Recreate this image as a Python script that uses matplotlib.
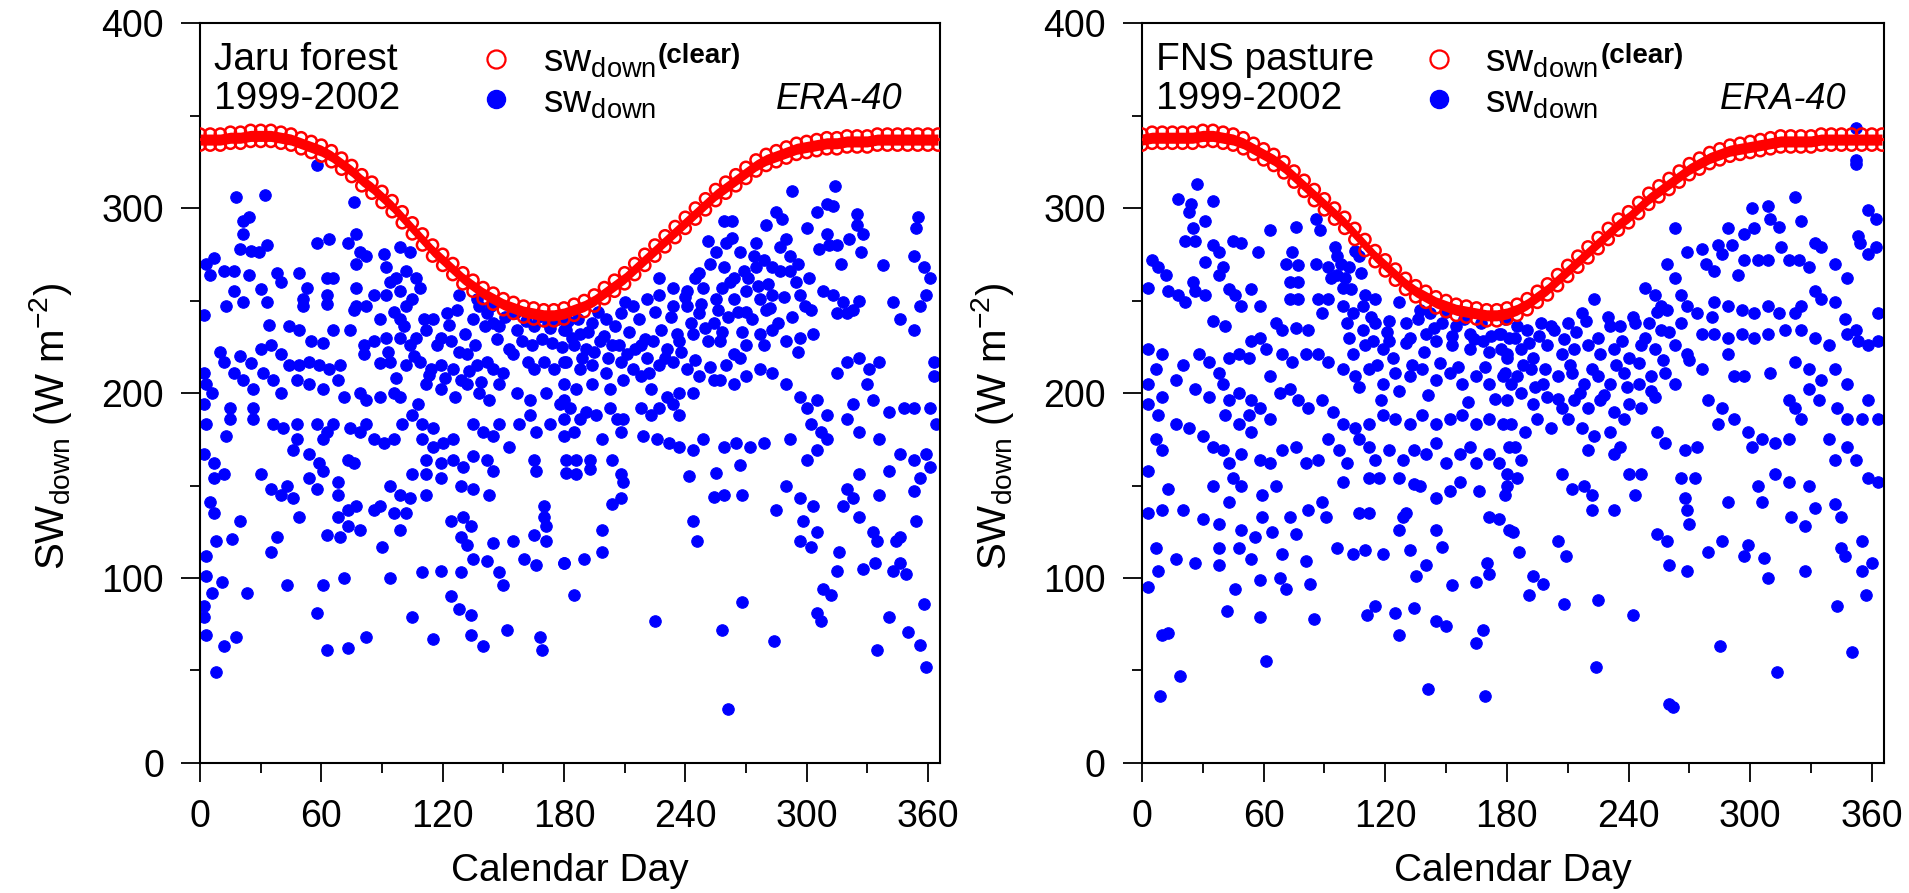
import matplotlib
matplotlib.use('Agg')
import matplotlib.pyplot as plt
from matplotlib.lines import Line2D
from matplotlib.ticker import MultipleLocator

plt.rcParams['font.family'] = ['Liberation Sans', 'DejaVu Sans']
plt.rcParams['mathtext.fontset'] = 'custom'
plt.rcParams['mathtext.rm'] = 'Liberation Sans'
plt.rcParams['mathtext.it'] = 'Liberation Sans:italic'
plt.rcParams['mathtext.bf'] = 'Liberation Sans:bold'

# ---- data ----
# calendar days of the clear-sky band (every 5 days)
clear_day = list(range(0, 366, 5))

# clear-sky SW (upper / lower edge of the red band), Jaru forest
jaru_clear_hi = [340, 340, 340, 341, 341, 342, 342, 342, 341, 340,
                 338, 336, 334, 331, 327, 323, 318, 314, 309, 304,
                 298, 292, 286, 280, 275, 270, 265, 261, 257, 254,
                 251, 249, 247, 246, 245, 245, 246, 248, 250, 253,
                 257, 261, 265, 270, 275, 280, 285, 290, 295, 300,
                 305, 310, 314, 318, 322, 326, 329, 331, 333, 335,
                 336, 337, 338, 338, 339, 339, 339, 340, 340, 340,
                 340, 340, 340, 340]
jaru_clear_lo = [334, 334, 334, 335, 335, 336, 336, 336, 335, 334,
                 332, 330, 328, 325, 321, 317, 312, 308, 303, 298,
                 292, 286, 280, 274, 269, 264, 259, 255, 251, 248,
                 245, 243, 241, 240, 239, 239, 240, 242, 244, 247,
                 251, 255, 259, 264, 269, 274, 279, 284, 289, 294,
                 299, 304, 308, 312, 316, 320, 323, 325, 327, 329,
                 330, 331, 332, 332, 333, 333, 333, 334, 334, 334,
                 334, 334, 334, 334]

# clear-sky SW, FNS pasture
fns_clear_hi = [340, 341, 341, 341, 341, 341, 342, 342, 341, 340,
                338, 335, 332, 329, 325, 320, 315, 310, 305, 300,
                295, 289, 283, 277, 272, 267, 262, 258, 255, 252,
                250, 248, 247, 246, 245, 245, 246, 248, 251, 255,
                259, 264, 269, 274, 279, 284, 289, 294, 298, 303,
                308, 312, 316, 320, 324, 327, 330, 332, 334, 335,
                336, 337, 338, 339, 339, 339, 339, 340, 340, 340,
                340, 340, 340, 340]
fns_clear_lo = [334, 335, 335, 335, 335, 335, 336, 336, 335, 334,
                332, 329, 326, 323, 319, 314, 309, 304, 299, 294,
                289, 283, 277, 271, 266, 261, 256, 252, 249, 246,
                244, 242, 241, 240, 239, 239, 240, 242, 245, 249,
                253, 258, 263, 268, 273, 278, 283, 288, 292, 297,
                302, 306, 310, 314, 318, 321, 324, 326, 328, 329,
                330, 331, 332, 333, 333, 333, 333, 334, 334, 334,
                334, 334, 334, 334]

# daily SW_down, Jaru forest
jaru_day = [58, 18, 32, 76, 21, 24, 21, 20, 25, 29, 33, 58, 64, 73,
            77, 79, 82, 77, 91, 99, 104, 7, 3, 5, 12, 17, 24, 38,
            40, 49, 53, 51, 51, 63, 66, 63, 63, 77, 77, 76, 86, 82,
            92, 94, 92, 97, 99, 102, 107, 109, 105, 102, 99, 89, 96, 17,
            21, 13, 30, 33, 2, 34, 44, 49, 66, 74, 55, 61, 81, 86,
            92, 99, 104, 115, 122, 127, 128, 119, 124, 107, 112, 135, 138, 142,
            145, 148, 157, 165, 173, 180, 137, 10, 12, 20, 25, 30, 35, 40,
            2, 3, 6, 17, 21, 26, 31, 36, 40, 44, 49, 54, 59, 64,
            69, 48, 54, 61, 68, 71, 81, 89, 94, 79, 82, 89, 96, 99,
            102, 109, 114, 119, 112, 119, 125, 129, 132, 137, 142, 145, 150, 155,
            162, 165, 170, 175, 180, 132, 138, 143, 148, 157, 163, 171, 178, 2,
            15, 15, 26, 26, 3, 13, 36, 41, 48, 48, 46, 58, 63, 66,
            61, 74, 79, 82, 86, 91, 96, 100, 105, 110, 115, 110, 115, 120,
            125, 135, 140, 145, 148, 153, 158, 163, 166, 173, 180, 112, 119, 125,
            130, 135, 142, 145, 2, 7, 7, 12, 30, 35, 40, 43, 46, 54,
            59, 61, 54, 58, 68, 68, 73, 76, 105, 112, 119, 94, 99, 104,
            112, 129, 135, 143, 165, 166, 5, 7, 20, 49, 68, 73, 77, 86,
            89, 96, 102, 73, 79, 99, 124, 130, 134, 170, 170, 171, 63, 69,
            38, 35, 8, 16, 90, 129, 132, 145, 155, 165, 171, 3, 135, 142,
            148, 160, 166, 180, 3, 11, 6, 23, 43, 61, 71, 94, 110, 119,
            129, 150, 124, 2, 2, 58, 105, 128, 134, 3, 18, 12, 82, 115,
            134, 140, 152, 168, 169, 63, 73, 8,
            293, 314, 259, 263, 280, 285, 288, 300, 305, 310, 313, 325, 325, 328,
            355, 354, 310, 311, 315, 321, 327, 251, 255, 260, 267, 274, 279, 287,
            292, 317, 338, 353, 358, 361, 359, 356, 247, 259, 264, 269, 275, 283,
            292, 295, 301, 297, 227, 234, 241, 249, 255, 264, 270, 277, 283, 280,
            308, 313, 318, 323, 326, 320, 315, 343, 346, 353, 181, 188, 194, 201,
            208, 214, 221, 227, 234, 241, 247, 254, 185, 191, 198, 204, 211, 218,
            224, 231, 237, 244, 251, 257, 181, 188, 194, 201, 208, 214, 221, 227,
            234, 241, 247, 254, 264, 270, 277, 283, 290, 297, 303, 180, 186, 194,
            203, 209, 218, 223, 231, 237, 244, 257, 264, 270, 277, 283, 260, 267,
            290, 297, 300, 305, 310, 315, 320, 326, 331, 336, 323, 330, 333, 341,
            348, 353, 361, 363, 363, 180, 183, 191, 196, 203, 209, 218, 223, 227,
            234, 237, 180, 185, 188, 199, 206, 208, 219, 226, 232, 237, 244, 249,
            259, 265, 272, 279, 292, 300, 305, 310, 307, 302, 320, 326, 336, 346,
            353, 359, 364, 181, 186, 193, 181, 186, 193, 204, 208, 209, 208, 204,
            242, 255, 267, 254, 259, 268, 290, 285, 297, 303, 320, 318, 323, 326,
            326, 341, 336, 353, 356, 361, 354, 199, 244, 246, 298, 305, 297, 302,
            333, 335, 344, 346, 180, 190, 199, 316, 315, 328, 334, 343, 346, 349,
            185, 268, 308, 312, 305, 307, 358, 225, 258, 284, 341, 350, 356, 335,
            359, 261,
            141, 144, 147, 151, 153, 156, 159, 161, 164, 167, 169, 172, 174, 177,
            179, 182, 184, 187, 189, 192, 195, 197, 200, 202, 205, 207, 210, 212,
            215, 217, 220, 222, 225, 228, 230, 233, 236, 238, 240, 243, 245, 248,
            250, 252, 256, 258, 261, 262, 266, 268, 271, 273, 276, 279, 282, 286,
            289, 293, 296, 299,
            93, 97, 101, 106, 108, 111, 113, 117, 121, 123, 126, 128, 131, 133,
            136, 139,
            245, 252, 258, 263, 270, 275, 281, 287, 290, 296, 302, 306]
jaru_sw = [323, 306, 307, 303, 293, 295, 286, 278, 277, 276, 280, 281, 283, 281,
           286, 276, 274, 270, 275, 279, 276, 273, 270, 264, 266, 266, 264, 265,
           260, 265, 257, 251, 247, 262, 262, 253, 248, 257, 247, 245, 253, 247,
           268, 260, 253, 262, 255, 266, 262, 257, 251, 247, 240, 240, 244, 255,
           249, 247, 256, 249, 242, 237, 236, 234, 234, 234, 228, 227, 226, 228,
           230, 230, 226, 240, 243, 245, 253, 230, 228, 230, 234, 240, 247, 243,
           238, 236, 234, 236, 235, 234, 251, 222, 217, 220, 216, 224, 226, 221,
           211, 205, 200, 211, 207, 202, 211, 207, 200, 215, 215, 217, 215, 213,
           215, 207, 205, 202, 207, 198, 221, 216, 217, 200, 196, 198, 200, 198,
           215, 217, 213, 215, 205, 202, 213, 207, 221, 215, 217, 213, 211, 221,
           217, 213, 217, 213, 217, 205, 200, 196, 205, 200, 196, 200, 194, 194,
           192, 186, 192, 186, 183, 177, 183, 181, 183, 175, 169, 183, 179, 183,
           175, 181, 179, 183, 175, 173, 175, 183, 188, 183, 181, 175, 171, 173,
           175, 183, 179, 177, 183, 171, 183, 188, 179, 183, 186, 164, 162, 164,
           160, 166, 164, 158, 167, 162, 154, 156, 156, 148, 145, 150, 143, 167,
           162, 158, 154, 148, 152, 145, 164, 162, 156, 156, 154, 150, 145, 143,
           145, 150, 148, 145, 164, 158, 141, 135, 131, 133, 133, 137, 139, 137,
           139, 135, 135, 128, 126, 126, 131, 133, 128, 139, 133, 128, 123, 122,
           122, 114, 120, 121, 117, 122, 118, 119, 120, 123, 120, 112, 110, 109,
           103, 110, 107, 108, 101, 98, 92, 92, 96, 96, 100, 100, 103, 104,
           103, 96, 90, 85, 79, 81, 79, 83, 80, 69, 68, 63, 68, 67,
           69, 63, 72, 68, 61, 61, 62, 49,
           309, 312, 293, 293, 291, 298, 294, 289, 298, 302, 301, 297, 291, 286,
           295, 289, 286, 280, 280, 283, 276, 282, 276, 281, 276, 274, 272, 279,
           274, 270, 269, 274, 268, 262, 253, 247, 265, 268, 262, 266, 268, 268,
           266, 260, 262, 253, 262, 257, 255, 257, 251, 251, 255, 251, 253, 245,
           255, 253, 249, 245, 250, 243, 243, 249, 240, 234, 234, 232, 238, 240,
           243, 247, 251, 253, 247, 247, 243, 238, 226, 224, 228, 226, 221, 226,
           228, 224, 228, 232, 228, 228, 217, 213, 215, 211, 217, 213, 219, 215,
           217, 213, 209, 207, 221, 226, 232, 234, 228, 230, 232, 205, 202, 205,
           202, 207, 209, 202, 198, 200, 200, 207, 205, 209, 213, 211, 215, 219,
           205, 198, 192, 196, 188, 211, 217, 219, 213, 217, 194, 205, 196, 190,
           192, 192, 192, 217, 209, 196, 192, 190, 188, 192, 186, 192, 188, 192,
           194, 188, 177, 179, 186, 175, 186, 179, 177, 175, 173, 171, 169, 175,
           171, 173, 171, 173, 175, 164, 169, 175, 179, 183, 186, 179, 175, 167,
           164, 167, 183, 164, 164, 164, 157, 156, 159, 164, 156, 152, 143, 140,
           155, 157, 161, 144, 145, 145, 150, 137, 143, 139, 148, 139, 143, 133,
           156, 158, 145, 147, 154, 160, 131, 126, 131, 120, 131, 125, 120, 117,
           125, 120, 120, 122, 108, 110, 114, 114, 104, 105, 108, 104, 108, 102,
           91, 87, 94, 91, 81, 77, 86, 77, 72, 66, 79, 71, 64, 61,
           52, 29,
           236, 247, 229, 241, 224, 243, 228, 239, 226, 241, 229, 238, 227, 240,
           225, 239, 230, 240, 219, 233, 222, 244, 231, 219, 236, 226, 249, 233,
           224, 240, 229, 211, 244, 234, 219, 241, 232, 222, 252, 238, 218, 248,
           235, 214, 245, 233, 241, 260, 244, 233, 262, 240, 258, 226, 246, 238,
           252, 241, 222, 247,
           222, 208, 236, 220, 194, 240, 210, 226, 208, 237, 198, 222, 232, 212,
           226, 206,
           262, 270, 257, 284, 244, 281, 259, 266, 283, 270, 245, 278]

# daily SW_down, FNS pasture
fns_day = [27, 18, 24, 35, 23, 31, 25, 26, 21, 35, 38, 31, 40, 38,
           45, 49, 57, 63, 76, 86, 88, 5, 8, 12, 3, 13, 18, 21,
           25, 26, 31, 43, 46, 49, 54, 58, 35, 41, 71, 74, 77, 73,
           77, 73, 77, 86, 92, 96, 102, 107, 96, 99, 92, 99, 104, 109,
           115, 87, 89, 82, 76, 69, 66, 58, 54, 122, 127, 137, 142, 148,
           155, 162, 168, 176, 181, 130, 132, 140, 145, 153, 162, 171, 180, 102,
           109, 114, 119, 122, 115, 3, 10, 7, 20, 17, 28, 33, 38, 43,
           48, 53, 61, 69, 74, 81, 87, 92, 99, 105, 112, 119, 125, 132,
           138, 145, 152, 158, 165, 171, 178, 3, 10, 3, 8, 17, 23, 30,
           35, 40, 26, 33, 40, 43, 48, 54, 63, 68, 73, 77, 82, 89,
           94, 41, 48, 53, 58, 63, 54, 99, 105, 112, 119, 125, 132, 138,
           145, 152, 158, 165, 171, 178, 7, 10, 3, 43, 49, 58, 63, 69,
           76, 81, 87, 92, 97, 101, 107, 112, 115, 122, 129, 134, 140, 145,
           150, 157, 162, 165, 171, 176, 181, 13, 35, 45, 49, 59, 66, 99,
           112, 117, 127, 134, 137, 145, 152, 157, 166, 180, 3, 10, 20, 30,
           38, 43, 49, 56, 59, 64, 73, 76, 82, 89, 91, 107, 112, 129,
           127, 130, 145, 171, 176, 181, 7, 17, 26, 38, 38, 48, 54, 69,
           81, 96, 104, 110, 119, 132, 140, 148, 170, 171, 8, 3, 46, 58,
           68, 71, 83, 135, 153, 165, 42, 58, 85, 115, 111, 125, 134, 145,
           150, 10, 13, 127, 168, 165, 61, 19, 9, 141, 169,
           352, 322, 301, 309, 310, 314, 325, 358, 362, 263, 289, 297, 302, 353,
           354, 358, 362, 284, 291, 286, 269, 276, 278, 282, 294, 297, 304, 309,
           315, 319, 324, 329, 332, 335, 342, 348, 259, 263, 266, 269, 274, 281,
           248, 253, 256, 259, 282, 289, 296, 302, 309, 314, 322, 325, 332, 335,
           342, 347, 352, 363, 276, 282, 289, 296, 302, 309, 317, 325, 332, 339,
           348, 353, 358, 363, 263, 269, 276, 289, 292, 297, 310, 322, 329, 335,
           342, 348, 358, 279, 286, 292, 284, 319, 322, 325, 329, 334, 343, 348,
           355, 363, 299, 301, 306, 312, 319, 339, 342, 348, 352, 358, 363, 254,
           258, 268, 274, 304, 312, 319, 329, 306, 289, 320, 327, 332, 342, 345,
           266, 273, 268, 269, 270, 177, 184, 190, 197, 203, 210, 217, 223, 230,
           236, 243, 250, 256, 180, 187, 193, 200, 207, 213, 220, 226, 233, 240,
           246, 253, 179, 185, 192, 198, 205, 212, 218, 225, 231, 238, 245, 251,
           258, 180, 187, 193, 200, 207, 213, 220, 226, 233, 240, 246, 253, 182,
           189, 195, 202, 210, 217, 223, 231, 238, 184, 187, 180, 185, 179, 220,
           233, 236, 207, 212, 218, 222, 222, 233, 240, 246, 243, 183, 186, 205,
           209, 193, 198, 191, 208, 225, 242, 254, 259, 260, 269, 279, 286, 299,
           297, 307, 309, 327, 345, 347, 355, 360, 355, 357, 343, 285, 350, 224,
           313, 260, 262, 352, 352,
           101, 104, 107, 110, 113, 116, 118, 121, 124, 127, 130, 133, 136, 139,
           141, 144, 147, 150, 153, 156, 159, 161, 164, 167, 169, 172, 174, 177,
           179, 182, 185, 188, 191, 194, 196, 199, 202, 205, 208, 211, 214, 216,
           219, 222, 225, 228, 231, 234, 237, 239, 242, 245, 248, 251, 254, 257,
           260, 263, 266, 270,
           93, 95, 98, 100, 103, 105, 108, 110]
fns_sw = [313, 305, 302, 304, 298, 293, 289, 282, 282, 280, 276, 271, 268, 264,
          282, 281, 276, 288, 290, 294, 288, 272, 268, 264, 257, 255, 253, 249,
          260, 255, 253, 256, 253, 247, 256, 247, 239, 236, 270, 276, 269, 260,
          260, 251, 251, 270, 268, 264, 268, 274, 274, 257, 251, 247, 243, 247,
          251, 251, 243, 234, 235, 234, 238, 230, 228, 239, 249, 245, 243, 238,
          236, 232, 228, 232, 230, 238, 230, 232, 228, 226, 224, 222, 219, 230,
          234, 228, 224, 228, 238, 224, 221, 213, 215, 207, 221, 217, 211, 219,
          221, 219, 224, 221, 217, 221, 221, 217, 213, 209, 213, 205, 211, 209,
          213, 207, 211, 205, 209, 205, 209, 205, 198, 194, 188, 183, 181, 177,
          171, 169, 202, 198, 205, 196, 200, 196, 209, 200, 202, 196, 192, 196,
          190, 188, 183, 188, 192, 186, 179, 183, 181, 183, 188, 186, 183, 188,
          183, 186, 188, 183, 186, 183, 175, 169, 158, 162, 167, 164, 162, 169,
          171, 162, 164, 175, 169, 162, 175, 171, 164, 169, 164, 169, 167, 173,
          162, 167, 171, 162, 167, 162, 171, 148, 150, 154, 150, 145, 150, 152,
          154, 154, 154, 151, 150, 143, 147, 152, 147, 150, 135, 137, 137, 132,
          129, 141, 126, 122, 133, 125, 133, 124, 137, 141, 133, 135, 135, 133,
          126, 135, 126, 133, 132, 126, 116, 110, 108, 116, 107, 116, 110, 113,
          109, 116, 113, 115, 113, 115, 107, 117, 108, 102, 104, 95, 94, 99,
          100, 94, 97, 101, 96, 98, 82, 79, 78, 85, 80, 81, 84, 77,
          74, 69, 70, 69, 72, 65, 55, 47, 36, 40, 36,
          326, 306, 300, 301, 294, 290, 293, 299, 294, 289, 289, 286, 289, 285,
          281, 275, 279, 280, 280, 275, 276, 278, 270, 266, 264, 272, 272, 272,
          279, 272, 272, 268, 281, 279, 270, 262, 270, 262, 253, 247, 243, 241,
          257, 253, 247, 245, 249, 247, 245, 243, 247, 243, 243, 247, 255, 251,
          249, 240, 234, 243, 232, 232, 230, 232, 230, 232, 234, 234, 230, 226,
          232, 228, 226, 228, 226, 221, 213, 221, 209, 209, 211, 217, 213, 207,
          213, 205, 196, 196, 192, 186, 183, 196, 192, 186, 202, 196, 192, 186,
          186, 186, 179, 171, 175, 173, 175, 175, 164, 171, 164, 154, 152, 179,
          173, 169, 171, 150, 156, 152, 150, 141, 141, 133, 128, 138, 140, 133,
          154, 154, 143, 137, 129, 232, 230, 234, 238, 234, 238, 243, 251, 241,
          236, 238, 238, 234, 221, 224, 219, 226, 221, 224, 226, 221, 224, 219,
          226, 224, 211, 209, 213, 205, 209, 211, 205, 209, 205, 211, 205, 209,
          211, 196, 200, 194, 198, 192, 196, 192, 196, 190, 194, 192, 198, 183,
          179, 186, 181, 186, 181, 177, 179, 186, 171, 164, 156, 154, 145, 169,
          167, 171, 156, 148, 150, 145, 137, 137, 156, 156, 145, 125, 114, 120,
          112, 101, 97, 91, 86, 88, 80, 124, 120, 107, 104, 114, 120, 118,
          112, 111, 100, 104, 116, 112, 120, 108, 104, 91, 85, 63, 60, 52,
          49, 32, 30, 343, 324,
          238, 221, 203, 226, 241, 215, 196, 233, 219, 201, 227, 215, 240, 222,
          199, 235, 216, 244, 231, 214, 240, 195, 229, 238, 214, 231, 197, 224,
          240, 205, 236, 215, 227, 203, 231, 213, 236, 197, 229, 215, 233, 200,
          239, 213, 230, 199, 236, 215, 228, 203, 241, 216, 230, 201, 244, 218,
          233, 205, 238, 218,
          262, 279, 270, 262, 256, 277, 265, 253]

BLUE = '#0000ff'
RED = '#ff0000'
KEY_FS = 28


def draw_panel(ax, days, sw, clear_hi, clear_lo, site):
    ax.scatter(days, sw, s=68, c=BLUE, edgecolors=BLUE, linewidths=0.8, zorder=2)
    # clear-sky band: filled ribbon with open circles along both edges
    ax.fill_between(clear_day, clear_lo, clear_hi, color=RED, lw=0, zorder=3)
    for vals in (clear_hi, clear_lo):
        ax.scatter(clear_day, vals, s=64, facecolors='none', edgecolors=RED,
                   linewidths=1.8, zorder=3)

    ax.set_xlim(0, 366)
    ax.set_ylim(0, 400)
    ax.xaxis.set_major_locator(MultipleLocator(60))
    ax.xaxis.set_minor_locator(MultipleLocator(30))
    ax.yaxis.set_major_locator(MultipleLocator(100))
    ax.yaxis.set_minor_locator(MultipleLocator(50))
    ax.tick_params(which='major', direction='out', length=14, width=1.3,
                   labelsize=27, top=False, right=False)
    ax.tick_params(which='minor', direction='out', length=7, width=1.3,
                   top=False, right=False)
    ax.tick_params(axis='both', which='major', pad=12)
    for sp in ax.spines.values():
        sp.set_linewidth(1.5)

    ax.set_xlabel('Calendar Day', fontsize=28)
    ax.xaxis.set_label_coords(0.5, -0.122)
    ax.set_ylabel(r'SW$_{\mathrm{down}}$ (W m$^{\mathrm{-2}}$)', fontsize=29)
    ax.yaxis.set_label_coords(-0.17, 0.455)

    ax.text(0.019, 0.950, site, fontsize=28, va='center', transform=ax.transAxes)
    ax.text(0.019, 0.897, '1999-2002', fontsize=28, va='center',
            transform=ax.transAxes)
    ax.text(0.949, 0.897, 'ERA-40', fontsize=26, style='italic', ha='right',
            va='center', transform=ax.transAxes)


def add_key(fig, ax, handle, label, tx, ty):
    # one legend row, shifted so its marker sits at (tx, ty) in axes fraction
    leg = ax.legend([handle], [label], loc='upper left', bbox_to_anchor=(0.37, 0.99),
                    frameon=False, borderpad=0, borderaxespad=0,
                    handlelength=1.0, handletextpad=0.7, fontsize=KEY_FS)
    fig.canvas.draw()
    r = fig.canvas.get_renderer()
    axbb = ax.get_window_extent(r)
    b = leg.legend_handles[0].get_window_extent(r)
    cx, cy = (b.x0 + b.x1) / 2, (b.y0 + b.y1) / 2
    wx, wy = ax.transAxes.transform((tx, ty))
    leg.set_bbox_to_anchor((0.37 + (wx - cx) / axbb.width,
                            0.99 + (wy - cy) / axbb.height), transform=ax.transAxes)
    # keep it as a plain artist so it is drawn only once
    ax.legend_ = None
    ax.add_artist(leg)
    fig.canvas.draw()
    return leg, r


def add_legend(fig, ax):
    red = Line2D([], [], ls='none', marker='o', ms=13, mfc='none', mec=RED, mew=1.6)
    blue = Line2D([], [], ls='none', marker='o', ms=13, mfc=BLUE, mec=BLUE)
    leg1, r = add_key(fig, ax, red, r'sw$_{\mathrm{down}}$', 0.40, 0.952)
    add_key(fig, ax, blue, r'sw$_{\mathrm{down}}$', 0.40, 0.897)
    # "(clear)" written right after the first label, in small bold type
    tb = leg1.get_texts()[0].get_window_extent(r)
    b1 = leg1.legend_handles[0].get_window_extent(r)
    px, py = ax.transAxes.inverted().transform((tb.x1 + 2, (b1.y0 + b1.y1) / 2 + 3))
    ax.text(px, py, '(clear)', fontsize=20, fontweight='bold', ha='left',
            va='center', transform=ax.transAxes)


fig = plt.figure(figsize=(19.09, 8.93), dpi=100)
ax1 = fig.add_axes([0.1048, 0.1456, 0.3876, 0.8286])
ax2 = fig.add_axes([0.5982, 0.1456, 0.3887, 0.8286])

draw_panel(ax1, jaru_day, jaru_sw, jaru_clear_hi, jaru_clear_lo, 'Jaru forest')
draw_panel(ax2, fns_day, fns_sw, fns_clear_hi, fns_clear_lo, 'FNS pasture')
add_legend(fig, ax1)
add_legend(fig, ax2)

fig.savefig('out.png', dpi=100)
plt.close(fig)
